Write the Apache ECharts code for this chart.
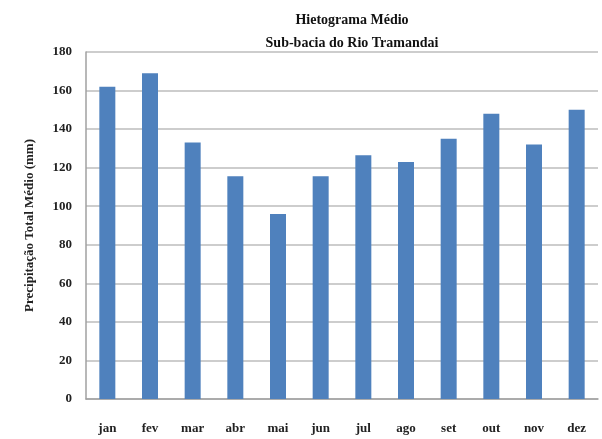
<!DOCTYPE html>
<html><head><meta charset="utf-8">
<script src="https://cdn.jsdelivr.net/npm/echarts@6/dist/echarts.min.js"></script>
<style>html,body{margin:0;padding:0;background:#fff}#c{width:602px;height:439px}</style>
</head><body><div id="c"></div>
<script>
var categories = ['jan','fev','mar','abr','mai','jun','jul','ago','set','out','nov','dez'];
var precipitation = [162, 169, 133, 115.5, 96, 115.5, 126.5, 123, 135, 148, 132, 150];
var yTicks = [0, 20, 40, 60, 80, 100, 120, 140, 160, 180];

var font = '"Liberation Serif", "DejaVu Serif", serif';
var chart = echarts.init(document.getElementById('c'));
chart.setOption({
  animation: false,
  title: {
    text: 'Hietograma Médio\nSub-bacia do Rio Tramandai',
    left: 347, top: 4, textAlign: 'center',
    textStyle: { fontFamily: font, fontWeight: 'bold', fontSize: 14, lineHeight: 23, color: '#111' }
  },
  grid: { left: 86, right: 4, top: 52, bottom: 40 },
  xAxis: {
    type: 'category', data: categories,
    axisLine: { lineStyle: { color: '#a0a0a0', width: 1.5 } },
    axisTick: { show: false },
    axisLabel: { margin: 23, fontFamily: font, fontWeight: 'bold', fontSize: 13, color: '#222' }
  },
  yAxis: {
    type: 'value', min: yTicks[0], max: yTicks[yTicks.length - 1], interval: 20,
    name: 'Precipitação Total Médio (mm)', nameLocation: 'middle', nameGap: 50, nameRotate: 90,
    nameTextStyle: { fontFamily: font, fontWeight: 'bold', fontSize: 13, color: '#222' },
    axisLine: { show: true, lineStyle: { color: '#a0a0a0', width: 1.5 } },
    axisTick: { show: false },
    axisLabel: { margin: 14, fontFamily: font, fontWeight: 'bold', fontSize: 13, color: '#222' },
    splitLine: { lineStyle: { color: '#bdbdbd', width: 1.5 } }
  },
  series: [{
    type: 'bar', data: precipitation, barWidth: 16,
    itemStyle: { color: '#4f81bd' }
  }]
});
</script></body></html>
